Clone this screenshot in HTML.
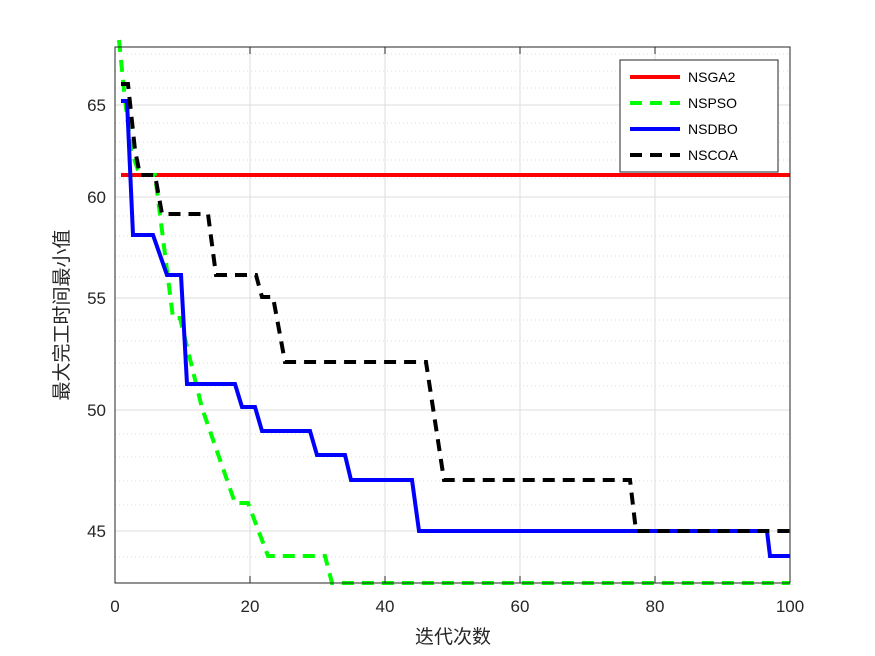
<!DOCTYPE html>
<html><head><meta charset="utf-8"><style>
html,body{margin:0;padding:0;background:#fff;}
svg{display:block;font-family:"Liberation Sans","Noto Sans CJK SC",sans-serif;}
</style></head><body>
<svg width="875" height="656" viewBox="0 0 875 656" xmlns="http://www.w3.org/2000/svg">
<rect x="0" y="0" width="875" height="656" fill="#fff"/>
<rect x="115" y="47" width="675" height="536" fill="#fff"/>
<g stroke="#d9d9d9" stroke-width="1" stroke-dasharray="1,3">
<line x1="115" x2="790" y1="557" y2="557"/>
<line x1="115" x2="790" y1="505" y2="505"/>
<line x1="115" x2="790" y1="481" y2="481"/>
<line x1="115" x2="790" y1="457" y2="457"/>
<line x1="115" x2="790" y1="434" y2="434"/>
<line x1="115" x2="790" y1="386" y2="386"/>
<line x1="115" x2="790" y1="363" y2="363"/>
<line x1="115" x2="790" y1="341" y2="341"/>
<line x1="115" x2="790" y1="320" y2="320"/>
<line x1="115" x2="790" y1="277" y2="277"/>
<line x1="115" x2="790" y1="256" y2="256"/>
<line x1="115" x2="790" y1="236" y2="236"/>
<line x1="115" x2="790" y1="216" y2="216"/>
<line x1="115" x2="790" y1="178" y2="178"/>
<line x1="115" x2="790" y1="160" y2="160"/>
<line x1="115" x2="790" y1="142" y2="142"/>
<line x1="115" x2="790" y1="123" y2="123"/>
<line x1="115" x2="790" y1="88" y2="88"/>
<line x1="115" x2="790" y1="71" y2="71"/>
<line x1="115" x2="790" y1="54" y2="54"/>
</g>
<g stroke="#dedede" stroke-width="1">
<line x1="115" x2="790" y1="531" y2="531"/>
<line x1="115" x2="790" y1="410" y2="410"/>
<line x1="115" x2="790" y1="298" y2="298"/>
<line x1="115" x2="790" y1="197" y2="197"/>
<line x1="115" x2="790" y1="105" y2="105"/>
<line x1="250" x2="250" y1="47" y2="583"/>
<line x1="385" x2="385" y1="47" y2="583"/>
<line x1="520" x2="520" y1="47" y2="583"/>
<line x1="655" x2="655" y1="47" y2="583"/>
</g>
<g fill="none" stroke-width="4" stroke-linejoin="miter">
<polyline stroke="#ff0000" points="121,175 790,175"/>
<polyline stroke="#00ff00" stroke-dasharray="12,8" points="119,40 124,90 131,150 138,170 142,175 155,175 173,318 180,318 202,408 235,503 248,503 268,556 325,556 332,583 790,583"/>
<polyline stroke="#0000ff" points="121,101 127,101 133,235 153,235 167,275 181,275 187,384 235,384 242,407 255,407 262,431 310,431 317,455 345,455 351,480 412,480 419,531 767,531 770,556 790,556"/>
<polyline stroke="#000000" stroke-dasharray="12,8" points="121,84 128,84 135,150 140,175 155,175 162,214 208,214 216,275 256,275 262,297 273,297 285,362 426,362 444,480 630,480 636,531 790,531"/>
</g>
<rect x="115" y="47" width="675" height="536" fill="none" stroke="#262626" stroke-width="1"/>
<g stroke="#262626" stroke-width="1">
<line x1="250" x2="250" y1="583" y2="576"/><line x1="385" x2="385" y1="583" y2="576"/>
<line x1="520" x2="520" y1="583" y2="576"/><line x1="655" x2="655" y1="583" y2="576"/>
<line x1="250" x2="250" y1="47" y2="54"/><line x1="385" x2="385" y1="47" y2="54"/>
<line x1="520" x2="520" y1="47" y2="54"/><line x1="655" x2="655" y1="47" y2="54"/>
</g>
<g font-size="17" fill="#262626" text-anchor="middle">
<text x="115" y="612">0</text><text x="250" y="612">20</text><text x="385" y="612">40</text>
<text x="520" y="612">60</text><text x="655" y="612">80</text><text x="790" y="612">100</text>
</g>
<g font-size="17" fill="#262626" text-anchor="end">
<text x="106" y="537">45</text><text x="106" y="416">50</text><text x="106" y="304">55</text>
<text x="106" y="203">60</text><text x="106" y="111">65</text>
</g>
<text x="453" y="643" font-size="19" fill="#262626" text-anchor="middle">迭代次数</text>
<text transform="translate(68,315) rotate(-90)" font-size="19" fill="#262626" text-anchor="middle">最大完工时间最小值</text>
<rect x="620" y="60" width="158" height="112" fill="#fff" stroke="#262626" stroke-width="1"/>
<g stroke-width="4" fill="none">
<line x1="630" x2="680" y1="77" y2="77" stroke="#ff0000"/>
<line x1="630" x2="680" y1="103" y2="103" stroke="#00ff00" stroke-dasharray="12,8"/>
<line x1="630" x2="680" y1="129" y2="129" stroke="#0000ff"/>
<line x1="630" x2="680" y1="155" y2="155" stroke="#000" stroke-dasharray="12,8"/>
</g>
<g font-size="14" fill="#000">
<text x="688" y="82">NSGA2</text><text x="688" y="108">NSPSO</text>
<text x="688" y="134">NSDBO</text><text x="688" y="160">NSCOA</text>
</g>
</svg>
</body></html>
